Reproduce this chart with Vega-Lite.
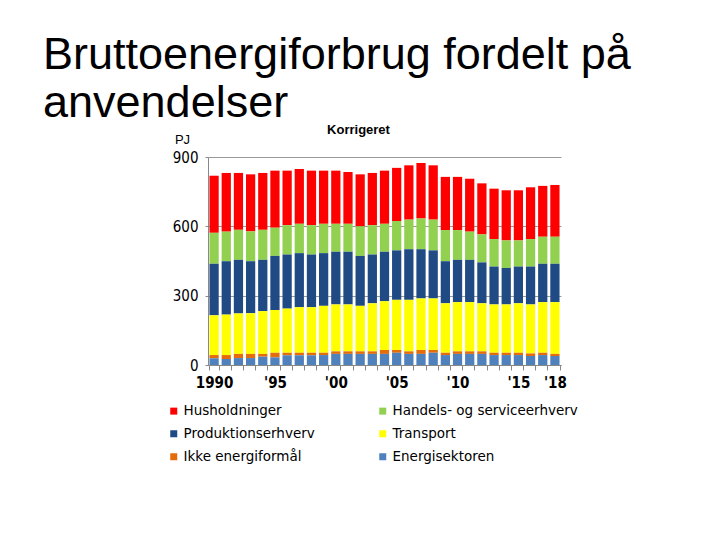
{
  "$schema": "https://vega.github.io/schema/vega-lite/v6.json",
  "autosize": "none",
  "width": 353,
  "height": 208,
  "padding": {"left": 208, "top": 157, "right": 159, "bottom": 175},
  "background": "white",
  "title": {
    "text": ["Bruttoenergiforbrug fordelt på", "anvendelser"],
    "font": "Liberation Sans",
    "fontSize": 45,
    "fontWeight": "normal",
    "color": "black",
    "anchor": "start",
    "frame": "group",
    "lineHeight": 48,
    "dx": -165,
    "dy": 13,
    "offset": 10
  },
  "data": {
    "values": [
      {"year": 1990, "Energisektoren": 29, "Ikke energiformål": 14, "Transport": 172, "Produktionserhverv": 223, "Handels- og serviceerhverv": 134, "Husholdninger": 247},
      {"year": 1991, "Energisektoren": 26, "Ikke energiformål": 17, "Transport": 175, "Produktionserhverv": 231, "Handels- og serviceerhverv": 128, "Husholdninger": 254},
      {"year": 1992, "Energisektoren": 30, "Ikke energiformål": 18, "Transport": 175, "Produktionserhverv": 232, "Handels- og serviceerhverv": 130, "Husholdninger": 246},
      {"year": 1993, "Energisektoren": 30, "Ikke energiformål": 18, "Transport": 176, "Produktionserhverv": 225, "Handels- og serviceerhverv": 129, "Husholdninger": 247},
      {"year": 1994, "Energisektoren": 36, "Ikke energiformål": 12, "Transport": 185, "Produktionserhverv": 222, "Handels- og serviceerhverv": 130, "Husholdninger": 246},
      {"year": 1995, "Energisektoren": 33, "Ikke energiformål": 20, "Transport": 185, "Produktionserhverv": 234, "Handels- og serviceerhverv": 122, "Husholdninger": 247},
      {"year": 1996, "Energisektoren": 42, "Ikke energiformål": 11, "Transport": 191, "Produktionserhverv": 234, "Handels- og serviceerhverv": 127, "Husholdninger": 236},
      {"year": 1997, "Energisektoren": 42, "Ikke energiformål": 11, "Transport": 197, "Produktionserhverv": 234, "Handels- og serviceerhverv": 127, "Husholdninger": 237},
      {"year": 1998, "Energisektoren": 42, "Ikke energiformål": 11, "Transport": 197, "Produktionserhverv": 228, "Handels- og serviceerhverv": 127, "Husholdninger": 236},
      {"year": 1999, "Energisektoren": 43, "Ikke energiformål": 10, "Transport": 203, "Produktionserhverv": 228, "Handels- og serviceerhverv": 127, "Husholdninger": 230},
      {"year": 2000, "Energisektoren": 48, "Ikke energiformål": 11, "Transport": 203, "Produktionserhverv": 228, "Handels- og serviceerhverv": 121, "Husholdninger": 230},
      {"year": 2001, "Energisektoren": 48, "Ikke energiformål": 11, "Transport": 203, "Produktionserhverv": 228, "Handels- og serviceerhverv": 121, "Husholdninger": 224},
      {"year": 2002, "Energisektoren": 48, "Ikke energiformål": 11, "Transport": 197, "Produktionserhverv": 216, "Handels- og serviceerhverv": 128, "Husholdninger": 225},
      {"year": 2003, "Energisektoren": 48, "Ikke energiformål": 11, "Transport": 208, "Produktionserhverv": 211, "Handels- og serviceerhverv": 127, "Husholdninger": 226},
      {"year": 2004, "Energisektoren": 48, "Ikke energiformål": 17, "Transport": 211, "Produktionserhverv": 214, "Handels- og serviceerhverv": 121, "Husholdninger": 230},
      {"year": 2005, "Energisektoren": 53, "Ikke energiformål": 12, "Transport": 217, "Produktionserhverv": 214, "Handels- og serviceerhverv": 127, "Husholdninger": 230},
      {"year": 2006, "Energisektoren": 48, "Ikke energiformål": 11, "Transport": 223, "Produktionserhverv": 219, "Handels- og serviceerhverv": 128, "Husholdninger": 235},
      {"year": 2007, "Energisektoren": 48, "Ikke energiformål": 17, "Transport": 223, "Produktionserhverv": 213, "Handels- og serviceerhverv": 133, "Husholdninger": 240},
      {"year": 2008, "Energisektoren": 53, "Ikke energiformål": 12, "Transport": 223, "Produktionserhverv": 208, "Handels- og serviceerhverv": 133, "Husholdninger": 235},
      {"year": 2009, "Energisektoren": 43, "Ikke energiformål": 10, "Transport": 214, "Produktionserhverv": 182, "Handels- og serviceerhverv": 135, "Husholdninger": 230},
      {"year": 2010, "Energisektoren": 48, "Ikke energiformål": 11, "Transport": 213, "Produktionserhverv": 183, "Handels- og serviceerhverv": 129, "Husholdninger": 230},
      {"year": 2011, "Energisektoren": 48, "Ikke energiformål": 11, "Transport": 213, "Produktionserhverv": 183, "Handels- og serviceerhverv": 122, "Husholdninger": 229},
      {"year": 2012, "Energisektoren": 48, "Ikke energiformål": 11, "Transport": 208, "Produktionserhverv": 177, "Handels- og serviceerhverv": 121, "Husholdninger": 221},
      {"year": 2013, "Energisektoren": 43, "Ikke energiformål": 10, "Transport": 209, "Produktionserhverv": 164, "Handels- og serviceerhverv": 119, "Husholdninger": 218},
      {"year": 2014, "Energisektoren": 43, "Ikke energiformål": 10, "Transport": 209, "Produktionserhverv": 158, "Handels- og serviceerhverv": 119, "Husholdninger": 217},
      {"year": 2015, "Energisektoren": 43, "Ikke energiformål": 10, "Transport": 214, "Produktionserhverv": 159, "Handels- og serviceerhverv": 113, "Husholdninger": 217},
      {"year": 2016, "Energisektoren": 39, "Ikke energiformål": 11, "Transport": 212, "Produktionserhverv": 164, "Handels- og serviceerhverv": 119, "Husholdninger": 224},
      {"year": 2017, "Energisektoren": 43, "Ikke energiformål": 10, "Transport": 219, "Produktionserhverv": 166, "Handels- og serviceerhverv": 117, "Husholdninger": 220},
      {"year": 2018, "Energisektoren": 39, "Ikke energiformål": 9, "Transport": 224, "Produktionserhverv": 166, "Handels- og serviceerhverv": 117, "Husholdninger": 224}
    ]
  },
  "transform": [
    {"fold": ["Husholdninger", "Handels- og serviceerhverv", "Produktionserhverv", "Transport", "Ikke energiformål", "Energisektoren"], "as": ["kategori", "PJ"]},
    {"calculate": "indexof(['Energisektoren','Ikke energiformål','Transport','Produktionserhverv','Handels- og serviceerhverv','Husholdninger'], datum.kategori)", "as": "stackorder"}
  ],
  "mark": {"type": "bar"},
  "encoding": {
    "x": {
      "field": "year",
      "type": "ordinal",
      "scale": {"paddingInner": 0.24, "paddingOuter": 0.12},
      "axis": {
        "title": "Korrigeret",
        "titleFont": "Liberation Sans",
        "titleFontSize": 13,
        "titleFontWeight": "bold",
        "titleColor": "black",
        "titleX": 150,
        "titleY": -236,
        "titleAlign": "center",
        "titleBaseline": "middle",
        "labelAngle": 0,
        "labelOverlap": false,
        "labelExpr": "datum.value == 1990 ? '1990' : ((datum.value % 5 == 0 || datum.value == 2018) ? \"'\" + substring(toString(datum.value), 2) : '')",
        "labelFont": "DejaVu Sans Condensed",
        "labelFontSize": 15,
        "labelFontWeight": "bold",
        "labelColor": "black",
        "labelPadding": 5,
        "tickBand": "extent",
        "tickSize": 5,
        "tickColor": "#888888",
        "domainColor": "#888888"
      }
    },
    "y": {
      "field": "PJ",
      "type": "quantitative",
      "stack": "zero",
      "scale": {"domain": [0, 900], "nice": false},
      "axis": {
        "values": [0, 300, 600, 900],
        "title": "PJ",
        "titleFont": "Liberation Sans",
        "titleFontSize": 13,
        "titleFontWeight": "normal",
        "titleColor": "black",
        "titleAngle": 0,
        "titleX": -26,
        "titleY": -18,
        "titleAlign": "center",
        "titleBaseline": "middle",
        "labelFont": "DejaVu Sans Condensed",
        "labelFontSize": 15,
        "labelColor": "black",
        "labelPadding": 7,
        "tickSize": 3,
        "tickColor": "#888888",
        "domainColor": "#888888",
        "grid": true,
        "gridColor": "#999999"
      }
    },
    "color": {
      "field": "kategori",
      "type": "nominal",
      "scale": {
        "domain": ["Husholdninger", "Produktionserhverv", "Ikke energiformål", "Handels- og serviceerhverv", "Transport", "Energisektoren"],
        "range": ["#FF0000", "#1F4A84", "#E46C0A", "#92D050", "#FFFF00", "#4F81BD"]
      },
      "legend": {
        "title": null,
        "orient": "none",
        "legendX": -41,
        "legendY": 247,
        "columns": 2,
        "columnPadding": 61,
        "rowPadding": 8,
        "symbolType": "square",
        "symbolSize": 49,
        "symbolStrokeWidth": 0,
        "labelFont": "DejaVu Sans",
        "labelFontSize": 13.5,
        "labelColor": "black",
        "labelOffset": 3,
        "labelLimit": 300
      }
    },
    "order": {"field": "stackorder", "type": "quantitative"}
  },
  "config": {
    "view": {"stroke": null}
  }
}
